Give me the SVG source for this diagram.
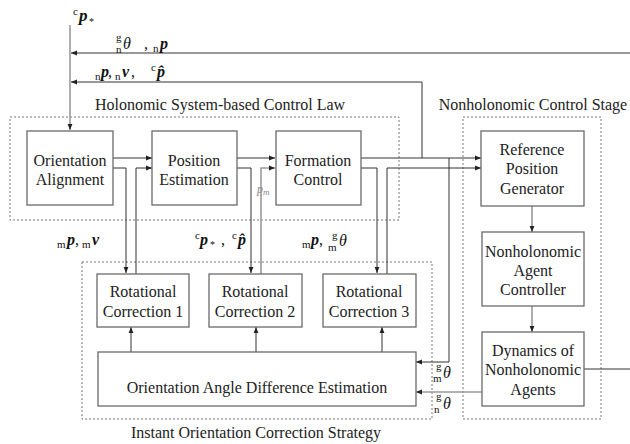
<svg xmlns="http://www.w3.org/2000/svg" width="630" height="444" viewBox="0 0 630 444">
  <defs>
    <style>
      text { font-family: 'Liberation Serif', serif; }
      .bx { fill: #fff; stroke: #6a6a6a; stroke-width: 1.3; }
      .grp { fill: none; stroke: #555; stroke-width: 0.8; stroke-dasharray: 2 2; }
      .ln { fill: none; stroke: #333; stroke-width: 1; }
      .lg { fill: none; stroke: #9a9a9a; stroke-width: 1.6; }
      .t { font-size: 16px; fill: #222; text-anchor: middle; }
      .m { font-size: 16px; fill: #111; }
      .bi { font-weight: bold; font-style: italic; }
      .it { font-style: italic; }
      .sm { font-size: 11px; }
      .st { font-size: 10px; }
      .pm { font-style: italic; fill: #888; }
    </style>
    <marker id="ah" viewBox="0 0 6 6" refX="6" refY="3" markerWidth="6" markerHeight="6" markerUnits="userSpaceOnUse" orient="auto">
      <path d="M0,0.6 L6,3 L0,5.4 z" fill="#222"/>
    </marker>
  </defs>

  <g font-family="Liberation Serif">
  <!-- stage frames -->
  <g id="holonomic-stage">
    <rect class="grp" x="10" y="117" width="389" height="103"/>
    <text class="t" x="220" y="110">Holonomic System-based Control Law</text>
  </g>
  <g id="nonholonomic-stage">
    <rect class="grp" x="463" y="117" width="138" height="302"/>
    <text class="t" x="533" y="110">Nonholonomic Control Stage</text>
  </g>
  <g id="correction-stage">
    <rect class="grp" x="82" y="262" width="350" height="157"/>
    <text class="t" x="256" y="438">Instant Orientation Correction Strategy</text>
  </g>

  <!-- connectors -->
  <g id="connectors">
    <!-- reference input -->
    <path class="lg" d="M70,25 V130" marker-end="url(#ah)"/>
    <!-- feedback from agents -->
    <path class="ln" d="M630,53 H71" marker-end="url(#ah)"/>
    <path class="ln" d="M422,158 V82 H71" marker-end="url(#ah)"/>
    <!-- holonomic chain -->
    <path class="ln" d="M113,158 H152" marker-end="url(#ah)"/>
    <path class="ln" d="M113,168 H126 V273" marker-end="url(#ah)"/>
    <path class="ln" d="M136,274 V168 H152" marker-end="url(#ah)"/>
    <path class="ln" d="M237,158 H275" marker-end="url(#ah)"/>
    <path class="ln" d="M237,168 H251 V273" marker-end="url(#ah)"/>
    <path class="lg" d="M261,274 V168 H275" marker-end="url(#ah)"/>
    <path class="ln" d="M361,158 H481" marker-end="url(#ah)"/>
    <path class="ln" d="M361,168 H377 V273" marker-end="url(#ah)"/>
    <path class="ln" d="M387,274 V168 H481" marker-end="url(#ah)"/>
    <!-- correction estimator inputs -->
    <path class="ln" d="M449,158 V362 H416" marker-end="url(#ah)"/>
    <path class="lg" d="M482,392 H416" marker-end="url(#ah)"/>
    <!-- estimator to rotational corrections -->
    <path class="ln" d="M131,352 V327" marker-end="url(#ah)"/>
    <path class="ln" d="M256,352 V327" marker-end="url(#ah)"/>
    <path class="ln" d="M382,352 V327" marker-end="url(#ah)"/>
    <!-- nonholonomic chain -->
    <path class="lg" d="M532,206 V232" marker-end="url(#ah)"/>
    <path class="lg" d="M532,306 V332" marker-end="url(#ah)"/>
    <path class="ln" d="M584,369 H630"/>
  </g>

  <!-- nodes -->
  <g id="orientation-alignment">
    <rect class="bx" x="27" y="131" width="86" height="74"/>
    <text class="t" x="70" y="166">Orientation</text>
    <text class="t" x="70" y="185">Alignment</text>
  </g>
  <g id="position-estimation">
    <rect class="bx" x="152" y="131" width="85" height="74"/>
    <text class="t" x="194" y="166">Position</text>
    <text class="t" x="194" y="185">Estimation</text>
  </g>
  <g id="formation-control">
    <rect class="bx" x="276" y="131" width="85" height="74"/>
    <text class="t" x="318" y="166">Formation</text>
    <text class="t" x="318" y="185">Control</text>
  </g>
  <g id="reference-position-generator">
    <rect class="bx" x="481" y="131" width="103" height="75"/>
    <text class="t" x="532" y="155">Reference</text>
    <text class="t" x="532" y="174">Position</text>
    <text class="t" x="532" y="194">Generator</text>
  </g>
  <g id="agent-controller">
    <rect class="bx" x="482" y="232" width="102" height="74"/>
    <text class="t" x="533" y="257">Nonholonomic</text>
    <text class="t" x="533" y="276">Agent</text>
    <text class="t" x="533" y="295">Controller</text>
  </g>
  <g id="agent-dynamics">
    <rect class="bx" x="482" y="332" width="102" height="74"/>
    <text class="t" x="533" y="356">Dynamics of</text>
    <text class="t" x="533" y="375">Nonholonomic</text>
    <text class="t" x="533" y="395">Agents</text>
  </g>
  <g id="rotational-correction-1">
    <rect class="bx" x="97" y="274" width="92" height="53"/>
    <text class="t" x="143" y="297">Rotational</text>
    <text class="t" x="143" y="317">Correction 1</text>
  </g>
  <g id="rotational-correction-2">
    <rect class="bx" x="209" y="274" width="93" height="53"/>
    <text class="t" x="255" y="297">Rotational</text>
    <text class="t" x="255" y="317">Correction 2</text>
  </g>
  <g id="rotational-correction-3">
    <rect class="bx" x="323" y="274" width="93" height="53"/>
    <text class="t" x="369" y="297">Rotational</text>
    <text class="t" x="369" y="317">Correction 3</text>
  </g>
  <g id="angle-difference-estimation">
    <rect class="bx" x="98" y="352" width="318" height="54"/>
    <text class="t" x="257" y="393">Orientation Angle Difference Estimation</text>
  </g>

  <!-- signal labels -->
  <g id="labels">
    <!-- c p* -->
    <text class="m sm" x="73" y="15">c</text>
    <text class="m bi" x="79" y="21" style="font-size:17px">p</text>
    <text class="m st" x="89" y="25">*</text>

    <!-- g n theta , n p -->
    <text class="m sm" x="116" y="41">g</text>
    <text class="m sm" x="116" y="53">n</text>
    <text class="m it" x="123" y="49">θ</text>
    <text class="m" x="144" y="49">,</text>
    <text class="m sm" x="153" y="52">n</text>
    <text class="m bi" x="160" y="49">p</text>

    <!-- n p, n v, c p-hat -->
    <text class="m sm" x="95" y="80">n</text>
    <text class="m bi" x="101" y="77">p</text>
    <text class="m" x="108" y="77">,</text>
    <text class="m sm" x="115" y="80">n</text>
    <text class="m bi" x="122" y="77">v</text>
    <text class="m" x="131" y="77">,</text>
    <text class="m sm" x="151" y="71">c</text>
    <text class="m bi" x="157" y="77">p̂</text>

    <!-- m p, m v -->
    <text class="m sm" x="57" y="248">m</text>
    <text class="m bi" x="67" y="245">p</text>
    <text class="m" x="75" y="245">,</text>
    <text class="m sm" x="82" y="248">m</text>
    <text class="m bi" x="92" y="245">v</text>

    <!-- c p*, c p-hat -->
    <text class="m sm" x="195" y="239">c</text>
    <text class="m bi" x="200" y="245">p</text>
    <text class="m st" x="210" y="248">*</text>
    <text class="m" x="221" y="245">,</text>
    <text class="m sm" x="232" y="239">c</text>
    <text class="m bi" x="238" y="245">p̂</text>

    <!-- m p, m g theta -->
    <text class="m sm" x="302" y="248">m</text>
    <text class="m bi" x="311" y="245">p</text>
    <text class="m" x="319" y="245">,</text>
    <text class="m sm" x="328" y="251">m</text>
    <text class="m sm" x="332" y="239">g</text>
    <text class="m it" x="339" y="246">θ</text>

    <!-- position signal inside the loop -->
    <text class="pm" x="257" y="193" style="font-size:12px">p</text>
    <text class="pm" x="263" y="195" style="font-size:9px">m</text>

    <!-- m g theta -->
    <text class="m sm" x="436" y="370">g</text>
    <text class="m sm" x="433" y="382">m</text>
    <text class="m it" x="443" y="378">θ</text>

    <!-- n g theta -->
    <text class="m sm" x="436" y="400">g</text>
    <text class="m sm" x="434" y="413">n</text>
    <text class="m it" x="443" y="409">θ</text>
  </g>
  </g>
</svg>
